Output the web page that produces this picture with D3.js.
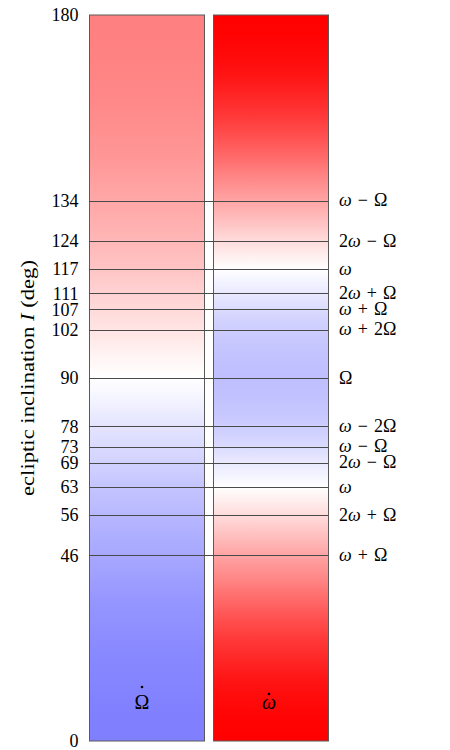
<!DOCTYPE html>
<html><head><meta charset="utf-8">
<script src="https://cdn.jsdelivr.net/npm/d3@7"></script>
<style>body{margin:0;background:#fff}svg{display:block}</style>
</head><body>
<script>
// ---- data ----
const columns = ["Omega", "omega"];
const columnLabels = ["Ω", "ω"];
const tickValues = [0, 46, 56, 63, 69, 73, 78, 90, 102, 107, 111, 117, 124, 134, 180];
const lineValues = [46, 56, 63, 69, 73, 78, 90, 102, 107, 111, 117, 124, 134];
const lineLabels = ["ω + Ω", "2ω + Ω", "ω", "2ω − Ω", "ω − Ω", "ω − 2Ω", "Ω",
                    "ω + 2Ω", "ω + Ω", "2ω + Ω", "ω", "2ω − Ω", "ω − Ω"];
// colour intensity (+ = red, − = blue), by inclination
const stopInclinations = [0, 5, 10, 15, 20, 25, 30, 35, 40, 45, 50, 55, 60, 63, 65, 70, 75, 80, 85, 90,
                          95, 100, 105, 110, 115, 117, 120, 125, 130, 135, 140, 145, 150, 155, 160, 165, 170, 175, 180];
const OmegaDotIntensity = [-0.50, -0.50, -0.49, -0.48, -0.47, -0.45, -0.43, -0.41, -0.38, -0.35, -0.32, -0.29, -0.25, -0.23, -0.21, -0.17, -0.13, -0.09, -0.04, 0,
                           0.04, 0.09, 0.13, 0.17, 0.21, 0.23, 0.25, 0.29, 0.32, 0.35, 0.38, 0.41, 0.43, 0.45, 0.47, 0.48, 0.49, 0.50, 0.50];
const omegaDotIntensity = [1.00, 0.99, 0.96, 0.92, 0.85, 0.78, 0.69, 0.59, 0.48, 0.38, 0.27, 0.16, 0.06, 0.00, -0.03, -0.10, -0.17, -0.21, -0.24, -0.25,
                           -0.24, -0.21, -0.17, -0.10, -0.03, 0.00, 0.06, 0.16, 0.27, 0.38, 0.48, 0.59, 0.69, 0.78, 0.85, 0.92, 0.96, 0.99, 1.00];

// ---- drawing ----
const W = 450, H = 750;
const svg = d3.select("body").append("svg").attr("width", W).attr("height", H);
const y = d3.scaleLinear().domain([0, 180]).range([741, 15]);
const x = d3.scaleBand().domain(columns).range([89.5, 328.5]).paddingInner(0.0726);

function colourOf(v) {
  const c = Math.round(255 * (1 - Math.abs(v)));
  return v >= 0 ? `rgb(255,${c},${c})` : `rgb(${c},${c},255)`;
}

const defs = svg.append("defs");
const intensities = [OmegaDotIntensity, omegaDotIntensity];
columns.forEach((col, i) => {
  const g = defs.append("linearGradient").attr("id", "grad-" + col)
    .attr("gradientUnits", "userSpaceOnUse")
    .attr("x1", 0).attr("x2", 0).attr("y1", y(0)).attr("y2", y(180));
  g.selectAll("stop").data(stopInclinations).join("stop")
    .attr("offset", d => d / 180)
    .attr("stop-color", (d, j) => colourOf(intensities[i][j]));
});

svg.selectAll("rect.col").data(columns).join("rect").attr("class", "col")
  .attr("x", d => x(d)).attr("width", x.bandwidth())
  .attr("y", y(180)).attr("height", y(0) - y(180))
  .attr("fill", d => `url(#grad-${d})`)
  .attr("stroke", "#5a5a5a").attr("stroke-width", 1);

svg.selectAll("line.res").data(lineValues).join("line").attr("class", "res")
  .attr("x1", x.range()[0]).attr("x2", x.range()[1])
  .attr("y1", d => Math.round(y(d)) + 0.5).attr("y2", d => Math.round(y(d)) + 0.5)
  .attr("stroke", "#4a4a4a").attr("stroke-width", 1);

const font = "'Liberation Serif', 'DejaVu Serif', serif";

// y axis
const axis = d3.axisLeft(y).tickValues(tickValues).tickSize(0).tickPadding(11).tickFormat(d3.format("d"));
const ax = svg.append("g").attr("transform", `translate(${x.range()[0]},0)`).call(axis);
ax.select(".domain").remove();
ax.selectAll("text").attr("font-family", font).attr("font-size", 18).attr("fill", "#000");

// right labels
const lab = svg.selectAll("text.res").data(lineValues).join("text").attr("class", "res")
  .attr("x", 339).attr("y", d => y(d)).attr("dy", "0.32em")
  .attr("font-family", font).attr("font-size", 18).attr("fill", "#000");
lab.each(function(d, i) {
  const t = d3.select(this);
  const tokens = lineLabels[i].split(" ");
  tokens.forEach((p, k) => {
    const isOp = p === "+" || p === "−";
    const prevOp = k > 0 && (tokens[k - 1] === "+" || tokens[k - 1] === "−");
    const s = t.append("tspan");
    if (k > 0) s.attr("dx", isOp || prevOp ? 6 : 4);
    p.split(/(ω)/).filter(q => q.length).forEach(q => {
      const u = s.append("tspan").text(q);
      if (q === "ω") u.attr("font-style", "italic");
    });
  });
});

// column labels (letter with a dot above)
const colOffsets = [-5, -2];
const dotRise = [22, 15];
const cl = svg.selectAll("g.colLab").data(columns).join("g").attr("class", "colLab")
  .attr("transform", (d, i) => `translate(${x(d) + x.bandwidth() / 2 + colOffsets[i]},709)`);
cl.append("text").attr("text-anchor", "middle")
  .attr("font-family", font).attr("font-size", 20)
  .attr("font-style", (d, i) => i === 1 ? "italic" : "normal")
  .text((d, i) => columnLabels[i]);
cl.append("circle").attr("cx", 0).attr("cy", (d, i) => -dotRise[i])
  .attr("r", 1.3).attr("fill", "#000");

// y title
const title = svg.append("text")
  .attr("transform", `translate(34,378) rotate(-90)`)
  .attr("text-anchor", "middle")
  .attr("font-family", font).attr("font-size", 19).attr("fill", "#000")
  .attr("textLength", 236).attr("lengthAdjust", "spacingAndGlyphs");
title.append("tspan").text("ecliptic inclination ");
title.append("tspan").attr("font-style", "italic").text("I");
title.append("tspan").text(" (deg)");
</script>
</body></html>
